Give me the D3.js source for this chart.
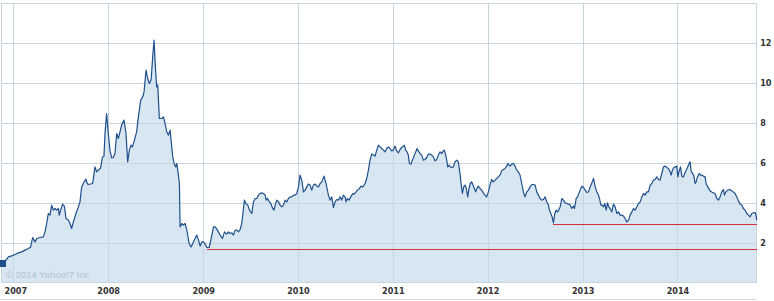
<!DOCTYPE html>
<html><head><meta charset="utf-8">
<script src="https://cdn.jsdelivr.net/npm/d3@7/dist/d3.min.js"></script>
<style>html,body{margin:0;padding:0;background:#fff;overflow:hidden}</style>
</head><body><div id="chart"></div>
<script>
// Time of each close, as decimal years
const times = [
2006.870,2006.923,2006.948,2006.983,2007.018,2007.053,2007.088,2007.123,2007.159,2007.183,
2007.204,2007.229,2007.246,2007.282,2007.317,2007.334,2007.352,2007.369,2007.387,2007.404,
2007.422,2007.440,2007.457,2007.475,2007.485,2007.499,2007.520,2007.538,2007.556,2007.580,
2007.598,2007.615,2007.633,2007.661,2007.686,2007.703,
2007.721,2007.738,2007.766,2007.780,2007.791,2007.837,2007.861,2007.879,2007.896,2007.921,
2007.939,2007.956,2007.967,2007.984,2008.002,2008.019,2008.037,2008.054,2008.072,2008.090,
2008.107,2008.125,2008.142,2008.167,2008.188,2008.206,2008.223,2008.241,2008.255,2008.272,
2008.300,2008.318,2008.343,2008.364,2008.378,2008.399,2008.416,2008.434,2008.452,2008.469,
2008.483,2008.497,2008.511,2008.522,2008.539,2008.564,2008.582,2008.599,2008.617,2008.634,
2008.652,2008.662,2008.680,2008.694,2008.712,2008.722,2008.733,2008.750,
2008.757,2008.775,2008.792,2008.810,2008.828,2008.852,2008.873,2008.898,2008.915,2008.933,
2008.951,2008.968,2008.986,2009.003,2009.021,2009.038,2009.063,2009.084,2009.109,2009.126,
2009.144,2009.161,2009.179,2009.203,2009.225,2009.249,2009.267,2009.284,2009.302,2009.319,
2009.337,2009.355,2009.372,2009.390,2009.407,2009.435,2009.450,2009.471,2009.488,2009.513,
2009.530,2009.548,
2009.566,2009.583,2009.601,2009.618,2009.636,2009.654,2009.664,2009.678,2009.699,2009.713,
2009.734,2009.748,2009.759,2009.776,2009.794,2009.812,2009.829,2009.847,2009.864,2009.882,
2009.899,2009.917,2009.935,2009.952,2009.970,2009.987,2010.005,2010.022,2010.040,2010.058,
2010.075,2010.093,2010.110,2010.128,2010.145,2010.163,2010.181,2010.198,2010.216,2010.233,
2010.251,2010.275,2010.296,2010.321,2010.339,2010.356,2010.374,2010.391,2010.409,2010.427,
2010.444,2010.462,2010.479,2010.497,2010.507,2010.521,2010.539,2010.557,2010.578,2010.592,
2010.613,2010.627,2010.648,2010.666,2010.683,2010.708,2010.725,2010.743,2010.760,2010.778,
2010.796,2010.813,2010.831,2010.848,2010.866,2010.883,2010.901,2010.918,2010.936,2010.954,
2010.971,2010.989,2011.006,2011.024,2011.041,2011.059,2011.077,2011.094,2011.112,2011.122,
2011.136,2011.150,2011.164,2011.175,2011.192,2011.207,2011.228,2011.242,2011.256,2011.270,
2011.287,2011.305,2011.322,2011.340,2011.358,2011.375,2011.393,2011.410,2011.428,2011.445,
2011.463,2011.481,2011.498,2011.516,2011.533,2011.544,2011.558,2011.572,2011.579,2011.593,
2011.607,2011.621,2011.639,2011.656,2011.674,2011.691,2011.709,2011.720,2011.734,2011.748,
2011.762,2011.776,2011.790,2011.804,2011.818,2011.832,2011.846,2011.860,2011.874,2011.888,
2011.902,2011.920,2011.937,2011.955,2011.973,2011.990,2012.008,2012.025,2012.043,2012.060,
2012.078,2012.096,2012.113,2012.131,2012.148,2012.166,2012.183,2012.201,2012.212,2012.226,
2012.236,2012.254,2012.271,2012.289,2012.306,2012.324,2012.341,2012.359,2012.377,2012.387,
2012.394,2012.412,2012.429,2012.447,2012.465,2012.482,2012.500,2012.517,2012.535,2012.552,
2012.570,2012.588,2012.605,2012.623,2012.640,2012.651,2012.665,2012.679,2012.693,2012.707,
2012.721,2012.735,2012.749,2012.763,2012.781,2012.798,2012.816,2012.834,2012.851,2012.869,
2012.886,2012.904,2012.914,2012.932,2012.946,2012.957,2012.974,2012.992,2013.009,2013.027,
2013.044,2013.062,2013.079,2013.097,2013.115,2013.132,2013.150,2013.167,2013.178,2013.192,
2013.206,2013.220,2013.234,2013.248,2013.262,2013.276,2013.290,2013.308,2013.325,2013.343,
2013.361,2013.378,2013.396,2013.413,2013.431,2013.448,2013.466,2013.484,2013.501,2013.519,
2013.536,2013.554,2013.571,2013.589,2013.607,2013.624,2013.642,2013.659,2013.677,2013.694,
2013.712,2013.730,2013.747,2013.765,2013.782,2013.800,2013.817,2013.835,2013.853,2013.870,
2013.888,2013.905,2013.923,2013.933,2013.947,2013.962,2013.976,2013.993,2014.004,2014.018,
2014.032,2014.046,2014.063,2014.074,2014.088,2014.106,2014.123,2014.134,2014.144,2014.158,
2014.172,2014.186,2014.197,2014.211,2014.229,2014.243,2014.257,2014.274,2014.292,2014.302,
2014.320,2014.345,2014.362,2014.380,2014.397,2014.415,2014.432,2014.450,2014.467,2014.485,
2014.496,2014.510,2014.531,2014.555,2014.573,2014.590,2014.608,2014.626,2014.643,2014.661,
2014.678,2014.696,2014.713,2014.731,2014.749,2014.766,2014.784,2014.801,2014.819,2014.829,
2014.836
];
// Closing price at each time
const values = [
0.95,1.12,1.28,1.33,1.40,1.48,1.53,1.62,1.70,1.78,
2.25,2.03,2.20,2.25,2.28,2.53,2.95,3.45,3.37,3.87,
3.62,3.70,3.62,3.70,3.37,3.62,3.92,3.82,3.20,3.12,
2.95,2.70,3.03,3.45,3.78,4.03,
4.78,4.95,5.17,4.95,4.90,4.95,5.78,5.53,5.61,5.73,
6.25,6.32,7.45,8.45,7.45,6.62,6.23,6.25,6.45,7.45,
7.20,7.53,7.87,8.12,7.45,6.03,6.62,6.87,6.78,7.03,
7.53,8.28,9.12,9.28,9.53,10.62,10.20,9.95,10.12,11.28,
12.12,10.78,9.78,9.87,8.20,8.20,8.28,7.95,7.53,7.37,
7.62,7.12,6.28,5.95,5.78,5.95,5.62,4.95,
2.78,2.95,2.87,2.95,2.62,1.95,1.78,2.03,2.20,2.37,
2.12,1.82,2.03,2.03,1.92,1.75,1.75,2.20,2.78,2.78,
2.67,2.53,2.37,2.20,2.53,2.42,2.53,2.45,2.48,2.37,
2.62,2.62,2.53,2.65,2.95,4.12,3.95,3.87,3.62,3.45,
4.03,4.20,
4.20,4.37,4.45,4.48,4.45,4.37,4.12,4.20,4.03,3.95,
3.70,3.62,3.87,4.12,4.03,3.87,3.78,3.87,4.12,4.03,
4.20,4.28,4.28,4.37,4.37,4.45,4.78,5.37,5.12,4.53,
4.62,4.78,4.92,4.87,4.62,4.87,4.92,4.83,4.78,4.95,
5.03,5.32,4.95,4.37,4.12,4.28,3.75,4.03,4.15,4.12,
4.28,4.12,4.37,4.28,4.03,4.20,4.12,4.28,4.45,4.42,
4.53,4.62,4.70,4.82,4.78,4.95,5.20,5.62,6.12,6.42,
6.37,6.32,6.62,6.87,6.78,6.70,6.62,6.53,6.70,6.78,
6.70,6.58,6.62,6.82,6.58,6.48,6.65,6.75,6.82,6.87,
6.62,6.53,6.37,5.95,5.92,6.12,6.37,6.53,6.70,6.58,
6.45,6.37,6.12,6.15,6.25,6.42,6.42,6.37,6.28,6.08,
6.15,6.37,6.53,6.45,6.58,6.62,6.37,6.03,5.78,5.87,
5.78,5.75,5.78,6.03,6.12,6.03,5.45,4.95,4.45,4.78,
4.87,4.70,4.28,4.70,4.95,5.03,4.87,4.70,4.53,4.70,
4.82,4.70,4.62,4.48,4.37,4.28,4.53,4.87,5.15,5.03,
5.12,5.20,5.28,5.37,5.58,5.65,5.70,5.82,5.95,5.87,
5.82,5.92,5.95,5.82,5.62,5.53,5.37,4.95,4.53,4.37,
4.28,4.53,4.62,4.78,4.90,4.90,4.87,4.53,4.37,4.20,
4.12,4.15,4.28,4.03,3.87,3.62,3.45,3.28,2.98,3.45,
3.62,3.53,3.62,3.78,4.20,4.12,3.98,3.95,3.92,3.87,
3.70,3.82,3.70,4.20,4.28,4.42,4.62,4.82,4.75,4.62,
4.50,4.53,4.78,4.98,5.20,4.78,4.53,4.37,4.20,3.87,
3.87,3.78,3.95,3.62,3.98,3.78,3.70,3.53,3.92,3.78,
3.45,3.53,3.37,3.37,3.32,3.20,3.03,3.12,3.37,3.53,
3.70,3.62,3.78,3.95,4.03,4.28,4.45,4.37,4.53,4.53,
4.87,4.95,5.12,5.15,5.28,5.15,5.12,5.45,5.78,5.82,
5.75,5.70,5.53,5.37,5.62,5.75,5.78,5.82,5.28,5.58,
5.78,5.32,5.28,5.42,5.58,5.75,5.95,6.03,5.58,5.45,
5.37,4.95,5.03,5.28,5.45,5.37,5.37,5.32,5.28,4.95,
4.78,4.58,4.53,4.48,4.45,4.20,4.12,4.28,4.53,4.65,
4.37,4.53,4.62,4.65,4.58,4.53,4.45,4.28,4.08,3.92,
3.87,3.70,3.62,3.45,3.37,3.28,3.45,3.48,3.50,3.37,
3.12
];
const yTicks = [2, 4, 6, 8, 10, 12];
const yMax = 14;
const xTickYears = [2007, 2008, 2009, 2010, 2011, 2012, 2013, 2014];
// Horizontal support lines: where each starts (decimal year) and its level
const supportStarts = [2009.039, 2012.689];
const supportValues = [1.66, 2.95];
const copyright = "\u00A9 2014 Yahoo!7 Inc.";

function yearToDate(t) {
  const yr = Math.floor(t);
  const s = Date.UTC(yr, 0, 1), e = Date.UTC(yr + 1, 0, 1);
  return new Date(s + (t - yr) * (e - s));
}
const data = times.map((t, i) => ({ date: yearToDate(t), value: values[i] }));

const W = 774, H = 301;
const L = 1, R = 756.7, T = 2.5, B = 282.5;
const x = d3.scaleUtc().domain([data[0].date, data[data.length - 1].date]).range([L, R]);
const y = d3.scaleLinear().domain([0, yMax]).range([B, T]);

const svg = d3.select("#chart").append("svg")
  .attr("width", W).attr("height", H)
  .style("display", "block").style("background", "#fff");

const gridColor = "#c6d5e0";
const fontFam = "'DejaVu Sans Condensed','DejaVu Sans',Verdana,sans-serif";

// area
svg.append("path").datum(data)
  .attr("fill", "#d7e6f1")
  .attr("d", d3.area().x(d => x(d.date)).y0(y(0)).y1(d => y(d.value)));

// grid
const grid = svg.append("g").attr("stroke", gridColor).attr("stroke-width", 1).attr("shape-rendering", "crispEdges");
grid.selectAll("line.h").data(yTicks.concat([yMax])).join("line")
  .attr("x1", L).attr("x2", R + 0.5)
  .attr("y1", d => Math.round(y(d)) + 0.5).attr("y2", d => Math.round(y(d)) + 0.5);
grid.selectAll("line.v").data(xTickYears).join("line")
  .attr("x1", d => Math.round(x(new Date(Date.UTC(d, 0, 1)))) + 0.5)
  .attr("x2", d => Math.round(x(new Date(Date.UTC(d, 0, 1)))) + 0.5)
  .attr("y1", T).attr("y2", B);
// frame
grid.append("line").attr("x1", 1.5).attr("x2", 1.5).attr("y1", T).attr("y2", B);
grid.append("line").attr("x1", 756.5).attr("x2", 756.5).attr("y1", T).attr("y2", B);
grid.append("line").attr("x1", L).attr("x2", R).attr("y1", B - 0.5).attr("y2", B - 0.5);
// bottom separator
svg.append("line").attr("x1", 0).attr("x2", 757).attr("y1", 299.5).attr("y2", 299.5)
  .attr("stroke", "#dddddd").attr("shape-rendering", "crispEdges");

// copyright
svg.append("text").attr("x", 6).attr("y", 278)
  .attr("font-family", "'Liberation Sans',Arial,sans-serif").attr("font-size", 9.5)
  .attr("fill", "#b6c3cd").text(copyright);

// price line
svg.append("path").datum(data)
  .attr("fill", "none").attr("stroke", "#1e4f8c").attr("stroke-width", 1.2)
  .attr("stroke-linejoin", "round")
  .attr("d", d3.line().x(d => x(d.date)).y(d => y(d.value)));

// start marker
svg.append("rect")
  .attr("x", x(data[0].date) - 1).attr("y", y(data[0].value) - 3.5)
  .attr("width", 6).attr("height", 7).attr("fill", "#1e4f8c");

// support lines
svg.append("g").selectAll("line").data(supportStarts).join("line")
  .attr("x1", d => x(yearToDate(d))).attr("x2", R)
  .attr("y1", (d, i) => Math.round(y(supportValues[i])) + 0.5)
  .attr("y2", (d, i) => Math.round(y(supportValues[i])) + 0.5)
  .attr("stroke", "#d0303a").attr("stroke-width", 1).attr("shape-rendering", "crispEdges");

// y axis labels
const yAxis = svg.append("g").attr("transform", `translate(${R},0)`)
  .call(d3.axisRight(y).tickValues(yTicks).tickSize(0).tickPadding(3.5).tickFormat(d3.format("d")));
yAxis.select(".domain").remove();
yAxis.selectAll("text").attr("font-family", fontFam).attr("font-size", 9).attr("font-weight", "bold").attr("fill", "#333");

// x axis labels
const xAxis = svg.append("g").attr("transform", `translate(0,${B})`)
  .call(d3.axisBottom(x).tickValues(xTickYears.map(d => new Date(Date.UTC(d, 0, 1))))
    .tickSize(0).tickPadding(5.4).tickFormat(d3.utcFormat("%Y")));
xAxis.select(".domain").remove();
xAxis.selectAll("text").attr("font-family", fontFam).attr("font-size", 9).attr("font-weight", "bold").attr("fill", "#333")
  .attr("dx", (d, i) => i === 0 ? 2 : 0);
</script>
</body></html>
